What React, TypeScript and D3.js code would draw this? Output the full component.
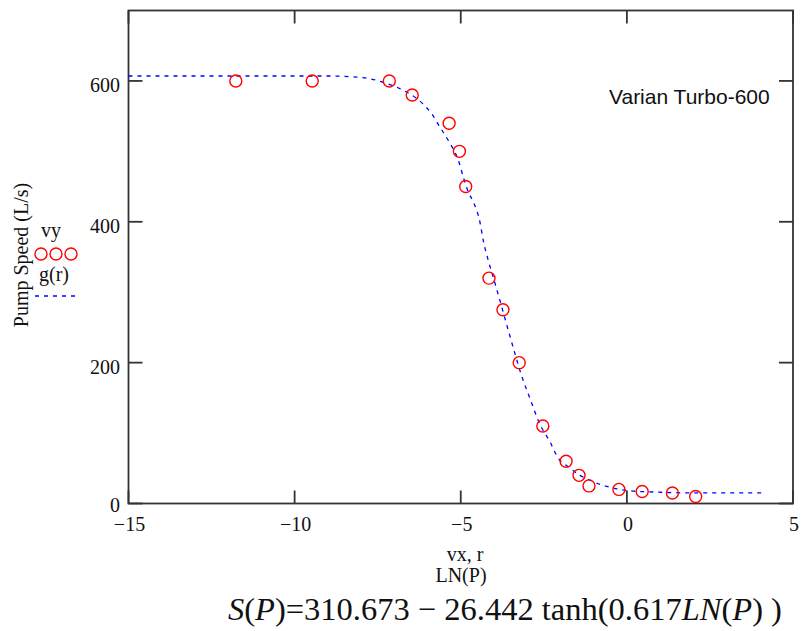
import React from "react";
import * as d3 from "d3";

// Measured data points (vx = LN(P), vy = pump speed L/s)
const vx = [-11.77, -9.47, -7.15, -6.46, -5.35, -5.04, -4.85, -4.15, -3.73, -3.24, -2.53, -1.83, -1.44, -1.14, -0.24, 0.46, 1.37, 2.07];
const vy = [600, 600, 600, 580, 540, 500, 450, 320, 275, 200, 110, 60, 40, 25, 20, 17, 15, 10];

// Fitted curve g(r)
const r = [-15, -12, -9, -8, -7.33, -6.83, -6.13, -5.87, -5.62, -5.37, -5.07, -4.92, -4.77, -4.62, -4.42, -4.32, -4.17, -4.02, -3.82, -3.57, -3.37, -3.22, -2.86, -2.67, -2.31, -2.06, -1.76, -1.41, -1.11, -0.8, -0.51, 0.1, 1, 2, 3, 4.06];
const g = [607, 607, 607, 605, 598, 589, 567, 553, 534, 515, 487, 463, 442, 428, 399, 373, 345, 321, 288, 246, 213, 189, 142, 118, 87, 64, 52, 40, 33, 27, 23, 18, 16, 15, 15, 15];

const xTicks = [-15, -10, -5, 0, 5];
const yTicks = [0, 200, 400, 600];

export default function App() {
  const x = d3.scaleLinear().domain([-15, 5]).range([128.5, 793]);
  const y = d3.scaleLinear().domain([0, 700]).range([503.5, 10.5]);
  const line = d3
    .line<number>()
    .x((_, i) => x(r[i]))
    .y((d) => y(d))
    .curve(d3.curveMonotoneX);
  const serif = "'Liberation Serif', 'Times New Roman', serif";
  const sans = "'Liberation Sans', Arial, sans-serif";
  const axisColor = "#333";
  const fmt = (v: number) => (v < 0 ? "\u2212" + Math.abs(v) : String(v));
  return (
    <svg width={802} height={631} style={{ position: "absolute", left: 0, top: 0, background: "#fff" }}>
      {/* frame */}
      <rect x={x(-15)} y={y(700)} width={x(5) - x(-15)} height={y(0) - y(700)} fill="none" stroke={axisColor} strokeWidth={1.8} />
      {/* x ticks */}
      {xTicks.map((t) => (
        <g key={"xt" + t}>
          <line x1={x(t)} x2={x(t)} y1={y(0)} y2={y(0) - 13} stroke={axisColor} strokeWidth={1.8} />
          <line x1={x(t)} x2={x(t)} y1={y(700)} y2={y(700) + 13} stroke={axisColor} strokeWidth={1.8} />
          <text x={x(t) + 1} y={531} textAnchor="middle" fontFamily={serif} fontSize={20} fill="#111">
            {fmt(t)}
          </text>
        </g>
      ))}
      {/* y ticks */}
      {yTicks.map((t) => (
        <g key={"yt" + t}>
          <line x1={x(-15)} x2={x(-15) + 14} y1={y(t)} y2={y(t)} stroke={axisColor} strokeWidth={1.8} />
          <line x1={x(5)} x2={x(5) - 14} y1={y(t)} y2={y(t)} stroke={axisColor} strokeWidth={1.8} />
          <text x={120} y={t === 0 ? 512 : y(t) + 11} textAnchor="end" fontFamily={serif} fontSize={20} fill="#111">
            {fmt(t)}
          </text>
        </g>
      ))}
      {/* curve */}
      <path d={line(g) || ""} fill="none" stroke="#0000ff" strokeWidth={1.3} strokeDasharray="4,5" />
      {/* points */}
      {vx.map((v, i) => (
        <circle key={"p" + i} cx={x(v)} cy={y(vy[i])} r={6} fill="none" stroke="#ff0000" strokeWidth={1.4} />
      ))}
      {/* annotation */}
      <text x={609} y={104} fontFamily={sans} fontSize={21} fill="#111">
        Varian Turbo-600
      </text>
      {/* y axis label */}
      <text transform="translate(28,255) rotate(-90)" textAnchor="middle" fontFamily={serif} fontSize={20} fill="#111">
        Pump Speed (L/s)
      </text>
      {/* legend */}
      <text x={51} y={237} textAnchor="middle" fontFamily={serif} fontSize={20} fill="#111">vy</text>
      {[41, 56, 71].map((cx) => (
        <circle key={"lg" + cx} cx={cx} cy={254} r={6} fill="none" stroke="#ff0000" strokeWidth={1.4} />
      ))}
      <text x={54} y={281} textAnchor="middle" fontFamily={serif} fontSize={20} fill="#111">g(r)</text>
      <line x1={35} x2={78} y1={296} y2={296} stroke="#0000ff" strokeWidth={1.3} strokeDasharray="4,5" />
      {/* x axis label */}
      <text x={465} y={561} textAnchor="middle" fontFamily={serif} fontSize={20} fill="#111">vx, r</text>
      <text x={461} y={582} textAnchor="middle" fontFamily={serif} fontSize={20} fill="#111">LN(P)</text>
      {/* formula */}
      <text x={228} y={620} fontFamily={serif} fontSize={32.5} fill="#111">
        <tspan fontStyle="italic">S</tspan>(<tspan fontStyle="italic">P</tspan>)=310.673 − 26.442 tanh(0.617<tspan fontStyle="italic">LN</tspan>(<tspan fontStyle="italic">P</tspan>) )
      </text>
    </svg>
  );
}
